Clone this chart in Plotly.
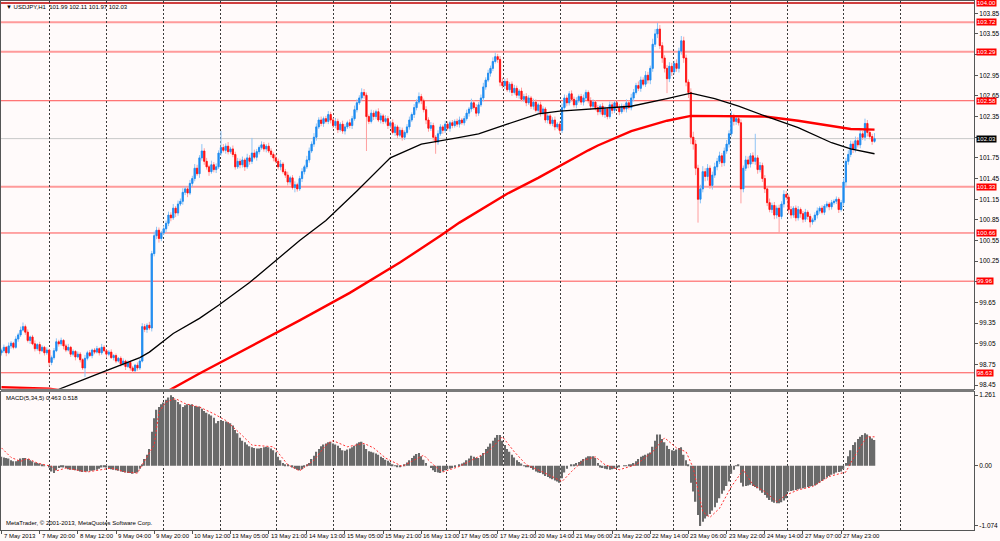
import plotly.graph_objects as go

# USDJPY H1, 7 May - 28 May 2013 (MetaTrader screenshot)
first_open = 98.92
closes = [
    98.95, 99.00, 98.92, 99.02, 99.06, 99.00, 99.12, 99.18, 99.25, 99.30,
    99.22, 99.10, 99.15, 99.05, 98.98, 99.04, 98.95, 99.00, 98.92, 98.96,
    98.78, 98.85, 98.95, 99.08, 99.05, 99.10, 99.02, 98.96, 99.00, 98.90,
    98.94, 98.86, 98.90, 98.82, 98.70, 98.84, 98.92, 98.88, 98.96, 98.93,
    98.98, 98.92, 99.00, 98.95, 98.90, 98.93, 98.85, 98.88, 98.80, 98.84,
    98.76, 98.80, 98.72, 98.78, 98.70, 98.66, 98.74, 98.70, 98.80, 99.30,
    99.26, 99.32, 99.28, 100.36, 100.62, 100.70, 100.58, 100.66, 100.72, 100.80,
    100.92, 100.88, 101.02, 100.95, 101.08, 101.12, 101.25, 101.30, 101.24, 101.38,
    101.45, 101.60, 101.52, 101.75, 101.85, 101.70, 101.62, 101.55, 101.65, 101.58,
    101.62, 101.82, 101.90, 101.86, 101.92, 101.84, 101.88, 101.80, 101.62, 101.70,
    101.65, 101.72, 101.62, 101.75, 101.70, 101.82, 101.76, 101.84, 101.90, 101.94,
    101.88, 101.92, 101.85, 101.80, 101.75, 101.70, 101.62, 101.66, 101.55, 101.50,
    101.40, 101.46, 101.32, 101.36, 101.30, 101.45, 101.55, 101.62, 101.72, 101.85,
    101.95, 102.05, 102.20, 102.30, 102.25, 102.32, 102.28, 102.38, 102.30, 102.22,
    102.28, 102.16, 102.24, 102.14, 102.20, 102.26, 102.22, 102.32, 102.45, 102.55,
    102.62, 102.70, 102.66, 102.35, 102.28, 102.40, 102.35, 102.42, 102.30, 102.36,
    102.28, 102.32, 102.22, 102.26, 102.12, 102.20, 102.08, 102.15, 102.05, 102.12,
    102.20, 102.30, 102.38, 102.48, 102.56, 102.64, 102.58, 102.45, 102.30, 102.18,
    102.22, 102.05, 101.98, 102.10, 102.20, 102.15, 102.24, 102.18, 102.26, 102.22,
    102.28, 102.24, 102.30, 102.26, 102.32, 102.40, 102.46, 102.55, 102.48, 102.40,
    102.52, 102.62, 102.78, 102.88, 102.98, 103.05, 103.15, 103.22, 103.18, 102.85,
    102.80, 102.86, 102.74, 102.82, 102.70, 102.76, 102.66, 102.72, 102.60, 102.64,
    102.55, 102.62, 102.50, 102.56, 102.44, 102.52, 102.40, 102.46, 102.30, 102.36,
    102.25, 102.30, 102.20, 102.24, 102.15, 102.48, 102.62, 102.55, 102.68, 102.60,
    102.52, 102.58, 102.64, 102.56, 102.62, 102.70, 102.58, 102.50, 102.56, 102.48,
    102.42, 102.50, 102.38, 102.46, 102.35, 102.52, 102.44, 102.55, 102.48, 102.42,
    102.50, 102.46, 102.55, 102.48, 102.62, 102.70, 102.80, 102.76, 102.88, 102.82,
    102.95, 102.88, 103.05, 103.40, 103.55, 103.62, 103.38, 103.20, 103.05, 102.90,
    103.08, 103.00, 103.12, 103.05, 103.30, 103.45, 103.20, 102.85, 102.70, 102.05,
    101.95, 101.60, 101.15, 101.30, 101.55, 101.48, 101.60, 101.35, 101.50, 101.62,
    101.70, 101.78, 101.68, 101.85, 101.95, 102.10, 102.35, 102.28, 102.32, 102.26,
    101.30, 101.60, 101.72, 101.66, 101.78, 101.70, 101.75, 101.58, 101.64, 101.45,
    101.30, 101.10, 101.00, 101.06, 100.92, 101.02, 100.90, 101.08, 101.22, 101.18,
    101.00, 100.92, 101.02, 100.88, 101.00, 100.94, 100.86, 100.96, 100.90, 100.82,
    100.85, 100.92, 100.98, 101.02, 100.96, 101.05, 101.08, 101.04, 101.10, 101.12,
    101.15, 101.00, 101.10, 101.40, 101.70, 101.80, 101.95, 101.88, 102.00, 101.94,
    102.10, 102.05, 102.25, 102.12, 102.06, 101.99, 102.03,
]
# wick lengths in hundredths of a yen, above and below the candle body
wick_up = [
    3, 4, 2, 5, 3, 2, 4, 3, 5, 6,  3, 4, 2, 3, 5, 2, 4, 3, 2, 4,
    2, 3, 4, 5, 3, 4, 2, 3, 5, 2,  3, 2, 4, 3, 2, 5, 3, 4, 2, 3,
    4, 2, 5, 3, 2, 3, 4, 2, 3, 2,  3, 4, 2, 3, 2, 3, 2, 4, 3, 5,
    4, 3, 5, 4, 6, 5, 4, 3, 5, 4,  5, 4, 6, 3, 5, 4, 6, 4, 3, 5,
    4, 6, 5, 4, 10, 4, 5, 3, 6, 4,  5, 4, 24, 5, 4, 6, 3, 5, 4, 5,
    4, 5, 3, 6, 4, 22, 5, 4, 3, 5,  4, 3, 5, 4, 3, 5, 4, 6, 3, 4,
    5, 3, 4, 5, 3, 4, 5, 3, 6, 5,  4, 6, 5, 4, 5, 3, 4, 5, 4, 3,
    5, 4, 3, 5, 4, 3, 5, 4, 6, 5,  4, 6, 5, 4, 3, 5, 4, 3, 5, 4,
    3, 5, 4, 3, 5, 4, 3, 5, 4, 3,  4, 5, 3, 5, 4, 6, 4, 3, 5, 4,
    5, 4, 3, 5, 4, 3, 5, 4, 3, 4,  3, 4, 5, 3, 4, 5, 3, 6, 4, 5,
    4, 5, 6, 4, 5, 4, 6, 6, 4, 5,  6, 4, 5, 3, 4, 5, 4, 3, 5, 4,
    5, 4, 3, 5, 4, 3, 5, 4, 3, 4,  3, 4, 5, 3, 4, 6, 5, 4, 4, 5,
    4, 5, 3, 4, 5, 4, 3, 5, 4, 3,  4, 3, 5, 4, 3, 5, 4, 3, 4, 5,
    4, 3, 5, 4, 6, 5, 4, 6, 5, 4,  6, 5, 4, 8, 7, 9, 6, 5, 4, 5,
    6, 5, 4, 6, 5, 7, 6, 5, 4, 6,  8, 6, 5, 6, 8, 5, 6, 4, 5, 6,
    5, 6, 4, 5, 6, 5, 8, 4, 5, 4,  5, 4, 6, 5, 4, 5, 35, 4, 5, 4,
    5, 4, 6, 4, 5, 4, 5, 4, 6, 5,  4, 5, 3, 4, 5, 3, 4, 5, 3, 4,
    3, 4, 5, 3, 4, 3, 4, 3, 4, 3,  4, 3, 4, 6, 5, 6, 5, 4, 6, 5,
    5, 4, 7, 5, 4, 4, 8,
]
wick_dn = [
    4, 3, 5, 2, 4, 3, 2, 4, 3, 2,  4, 3, 5, 2, 4, 3, 5, 2, 4, 3,
    6, 4, 3, 2, 4, 3, 5, 3, 2, 4,  3, 5, 2, 4, 3, 13, 3, 2, 4, 3,
    2, 4, 3, 2, 5, 3, 2, 4, 3, 2,  4, 3, 5, 2, 4, 3, 2, 4, 3, 2,
    4, 5, 3, 5, 4, 5, 6, 4, 3, 5,  4, 5, 3, 6, 4, 3, 5, 4, 6, 3,
    5, 4, 3, 6, 4, 5, 4, 6, 3, 4,  5, 3, 4, 3, 5, 4, 3, 4, 4, 3,
    5, 4, 6, 3, 5, 4, 3, 5, 4, 3,  4, 5, 3, 4, 5, 3, 4, 5, 3, 4,
    5, 4, 3, 7, 4, 3, 5, 4, 3, 4,  3, 4, 5, 3, 4, 5, 3, 4, 5, 4,
    4, 5, 3, 4, 5, 3, 4, 5, 3, 4,  3, 4, 5, 50, 4, 3, 5, 4, 3, 5,
    4, 3, 5, 4, 3, 5, 4, 3, 5, 4,  3, 4, 3, 5, 4, 3, 5, 4, 6, 5,
    4, 5, 17, 4, 3, 5, 4, 3, 5, 4,  3, 4, 5, 3, 4, 3, 5, 4, 3, 5,
    4, 3, 5, 4, 3, 5, 4, 3, 5, 6,  4, 5, 3, 4, 5, 3, 4, 5, 3, 4,
    5, 3, 4, 5, 3, 4, 5, 3, 4, 5,  3, 4, 5, 3, 5, 4, 3, 5, 4, 3,
    4, 5, 3, 4, 5, 3, 4, 5, 3, 4,  5, 4, 3, 5, 4, 3, 5, 4, 3, 5,
    3, 4, 5, 3, 4, 5, 3, 4, 5, 3,  4, 5, 6, 5, 4, 6, 5, 7, 6, 21,
    5, 6, 4, 5, 6, 5, 7, 6, 8, 10,  8, 10, 34, 6, 5, 7, 6, 5, 6, 4,
    5, 4, 6, 5, 4, 5, 4, 6, 5, 4,  21, 5, 4, 6, 5, 4, 5, 6, 4, 5,
    6, 5, 4, 5, 6, 5, 23, 4, 5, 4,  6, 5, 4, 5, 4, 6, 5, 4, 5, 8,
    4, 3, 5, 4, 3, 4, 3, 5, 4, 3,  4, 5, 3, 5, 6, 5, 4, 6, 5, 4,
    5, 4, 5, 6, 4, 5, 2,
]

# moving averages (black thin, red thick), read at a few bars
black_ma_bar = [18, 24, 41, 58, 62, 72, 83, 91, 104, 125, 136, 149, 163, 176, 191, 200,
                212, 225, 234, 246, 250, 264, 279, 289, 299, 309, 320, 334, 348, 356, 366]
black_ma = [98.33, 98.39, 98.62, 98.85, 98.93, 99.20, 99.42, 99.61, 99.94, 100.55, 100.84,
            101.27, 101.75, 101.95, 102.04, 102.10, 102.24, 102.39, 102.43, 102.46, 102.46,
            102.50, 102.61, 102.69, 102.61, 102.50, 102.36, 102.19, 101.97, 101.88, 101.81]
red_ma_bar = [0, 10, 20, 26, 45, 66, 70, 83, 104, 125, 146, 167, 184, 192, 212, 225,
              246, 250, 264, 279, 289, 306, 320, 334, 348, 356, 366]
red_ma = [98.42, 98.41, 98.40, 98.37, 98.10, 98.30, 98.37, 98.62, 99.00, 99.39, 99.79,
          100.23, 100.62, 100.81, 101.23, 101.46, 101.86, 101.93, 102.14, 102.29, 102.36,
          102.36, 102.35, 102.29, 102.22, 102.17, 102.16]

# MACD(5,34,5) histogram per bar and its signal line
macd = [
    0.16, 0.15, 0.14, 0.13, 0.10, 0.08, 0.08, 0.10, 0.13, 0.14,
    0.14, 0.12, 0.10, 0.08, 0.06, 0.05, 0.04, 0.02, 0.01, 0.00,
    -0.03, -0.10, -0.13, -0.08, -0.04, -0.02, -0.03, -0.04, -0.06, -0.07,
    -0.07, -0.08, -0.09, -0.10, -0.11, -0.10, -0.10, -0.09, -0.09, -0.08,
    -0.07, -0.05, -0.03, -0.02, -0.03, -0.04, -0.06, -0.07, -0.08, -0.09,
    -0.10, -0.11, -0.12, -0.13, -0.13, -0.14, -0.13, -0.12, -0.05, 0.02,
    0.12, 0.20, 0.30, 0.61, 0.85, 1.00, 1.05, 1.10, 1.13, 1.18,
    1.22, 1.261, 1.23, 1.18, 1.14, 1.10, 1.05, 1.08, 1.10, 1.09,
    1.10, 1.07, 1.05, 1.06, 1.02, 0.98, 0.95, 0.92, 0.90, 0.86,
    0.76, 0.80, 0.82, 0.80, 0.79, 0.78, 0.76, 0.72, 0.64, 0.58,
    0.50, 0.45, 0.42, 0.38, 0.35, 0.33, 0.32, 0.31, 0.31, 0.32,
    0.33, 0.34, 0.33, 0.31, 0.28, 0.24, 0.16, 0.10, 0.05, 0.03,
    0.02, 0.00, -0.03, -0.05, -0.07, -0.08, -0.06, -0.02, 0.02, 0.05,
    0.12, 0.18, 0.25, 0.30, 0.35, 0.38, 0.40, 0.42, 0.43, 0.40,
    0.38, 0.36, 0.32, 0.28, 0.27, 0.29, 0.31, 0.33, 0.36, 0.40,
    0.42, 0.43, 0.38, 0.30, 0.26, 0.25, 0.24, 0.22, 0.20, 0.16,
    0.14, 0.11, 0.09, 0.06, 0.03, 0.01, -0.01, -0.01, 0.00, 0.02,
    0.06, 0.10, 0.14, 0.18, 0.21, 0.23, 0.17, 0.11, 0.05, 0.00,
    -0.04, -0.08, -0.11, -0.12, -0.13, -0.10, -0.08, -0.06, -0.05, -0.04,
    -0.02, 0.00, 0.02, 0.04, 0.06, 0.10, 0.13, 0.18, 0.16, 0.14,
    0.14, 0.18, 0.23, 0.30, 0.34, 0.40, 0.45, 0.50, 0.55, 0.55,
    0.45, 0.37, 0.30, 0.25, 0.20, 0.15, 0.10, 0.07, 0.04, 0.01,
    -0.01, -0.02, -0.04, -0.07, -0.10, -0.12, -0.13, -0.15, -0.18, -0.20,
    -0.22, -0.24, -0.26, -0.28, -0.30, -0.22, -0.12, -0.05, 0.00, 0.02,
    0.03, 0.05, 0.07, 0.09, 0.12, 0.15, 0.17, 0.17, 0.17, 0.14,
    0.05, -0.03, -0.04, -0.05, -0.06, -0.07, -0.06, -0.05, -0.04, -0.02,
    0.00, 0.01, 0.01, 0.02, 0.03, 0.05, 0.08, 0.12, 0.16, 0.18,
    0.20, 0.22, 0.24, 0.34, 0.45, 0.56, 0.56, 0.48, 0.42, 0.36,
    0.30, 0.28, 0.27, 0.29, 0.32, 0.33, 0.20, 0.10, 0.02, -0.30,
    -0.46, -0.64, -0.88, -1.074, -1.00, -0.94, -0.90, -0.86, -0.80, -0.74,
    -0.66, -0.58, -0.50, -0.44, -0.36, -0.28, -0.14, -0.07, 0.01, 0.03,
    -0.30, -0.37, -0.36, -0.35, -0.34, -0.36, -0.38, -0.40, -0.44, -0.48,
    -0.52, -0.57, -0.61, -0.64, -0.66, -0.67, -0.67, -0.65, -0.62, -0.58,
    -0.46, -0.45, -0.44, -0.43, -0.42, -0.41, -0.40, -0.39, -0.38, -0.37,
    -0.36, -0.35, -0.33, -0.30, -0.27, -0.24, -0.21, -0.18, -0.16, -0.14,
    -0.12, -0.11, -0.10, -0.06, 0.05, 0.17, 0.28, 0.37, 0.42, 0.48,
    0.52, 0.55, 0.58, 0.56, 0.52, 0.49, 0.463,
]
signal_bar = [0, 4, 8, 11, 15, 21, 23, 27, 36, 41, 46, 52, 57, 59, 64, 66, 69, 73, 77, 83,
              89, 94, 100, 105, 114, 120, 125, 131, 136, 139, 145, 152, 156, 161, 168, 172,
              177, 181, 185, 192, 197, 204, 210, 215, 220, 227, 235, 239, 244, 249, 253, 259,
              266, 273, 278, 283, 287, 290, 294, 297, 301, 306, 311, 315, 320, 325, 329, 334,
              340, 347, 354, 356, 360, 363, 366]
signal = [0.32, 0.15, 0.08, 0.13, 0.05, -0.01, -0.09, -0.04, -0.11, -0.07, -0.04, -0.11,
          -0.13, 0.02, 0.37, 0.96, 1.14, 1.20, 1.11, 1.05, 0.93, 0.81, 0.58, 0.37, 0.34,
          0.02, -0.09, 0.10, 0.37, 0.45, 0.34, 0.40, 0.32, 0.14, -0.01, 0.08, 0.19, 0.02,
          -0.11, -0.01, 0.10, 0.25, 0.52, 0.25, 0.02, -0.11, -0.28, -0.10, 0.10, 0.16, 0.02,
          -0.07, 0.02, 0.25, 0.50, 0.32, 0.25, -0.04, -0.82, -0.92, -0.76, -0.37, -0.07,
          -0.34, -0.46, -0.64, -0.52, -0.43, -0.37, -0.19, -0.11, 0.05, 0.34, 0.52, 0.518]

# horizontal levels drawn on the chart
level_top = 104.00
level_major = [103.72, 103.29, 101.33]
level_minor = [102.58, 100.66, 99.96, 98.63]

price_ticks = [98.45, 98.75, 99.05, 99.35, 99.65, 99.95, 100.25, 100.55, 100.85, 101.15,
               101.45, 101.75, 102.05, 102.35, 102.65, 102.95, 103.25, 103.55, 103.85]
# these tick labels sit under a level/price box in the screenshot
price_ticks_hidden = [99.95, 102.05, 103.25]
macd_ticks = [1.261, 0.0, -1.074]
macd_ticktext = ["1.261", "0.00", "-1.074"]

time_labels = ["7 May 2013", "7 May 20:00", "8 May 12:00", "9 May 04:00", "9 May 20:00",
               "10 May 12:00", "13 May 05:00", "13 May 21:00", "14 May 13:00", "15 May 05:00",
               "15 May 21:00", "16 May 13:00", "17 May 05:00", "17 May 21:00", "20 May 14:00",
               "21 May 06:00", "21 May 22:00", "22 May 14:00", "23 May 06:00", "23 May 22:00",
               "24 May 14:00", "27 May 07:00", "27 May 23:00"]

# ---- build candles ----
bars = list(range(len(closes)))
opens = [first_open] + closes[:-1]
body_hi = [max(o, c) for o, c in zip(opens, closes)]
body_lo = [min(o, c) for o, c in zip(opens, closes)]
highs = [round(b + u / 100, 2) for b, u in zip(body_hi, wick_up)]
lows = [round(b - d / 100, 2) for b, d in zip(body_lo, wick_dn)]
label_bars = [16 * k for k in range(len(time_labels))]
grid_bars = [20.3 + 23.77 * k for k in range(16)]

FONT = "Liberation Sans"
BG = "#fffafa"
XR = [-0.21, 407.7]

fig = go.Figure()

# pale wicks, then saturated bodies on top
fig.add_trace(go.Candlestick(
    x=bars, open=opens, high=highs, low=lows, close=closes,
    increasing=dict(line=dict(color="#8fc4f5", width=1), fillcolor="#8fc4f5"),
    decreasing=dict(line=dict(color="#ff9e9e", width=1), fillcolor="#ff9e9e"),
    whiskerwidth=0, hoverinfo="skip", showlegend=False, xaxis="x", yaxis="y"))
fig.add_trace(go.Candlestick(
    x=bars, open=opens, high=body_hi, low=body_lo, close=closes,
    increasing=dict(line=dict(color="#1e8cf0", width=0.8), fillcolor="#1e8cf0"),
    decreasing=dict(line=dict(color="#ff1010", width=0.8), fillcolor="#ff1010"),
    whiskerwidth=0, hoverinfo="skip", showlegend=False, xaxis="x", yaxis="y"))

fig.add_trace(go.Scatter(x=red_ma_bar, y=red_ma, mode="lines",
                         line=dict(color="#ff0000", width=2.4), showlegend=False,
                         xaxis="x", yaxis="y"))
fig.add_trace(go.Scatter(x=black_ma_bar, y=black_ma, mode="lines",
                         line=dict(color="#000000", width=1.3), showlegend=False,
                         xaxis="x", yaxis="y"))

# MACD panel
fig.add_trace(go.Bar(x=bars, y=macd, marker=dict(color="#6a6a6a", line=dict(width=0)),
                     showlegend=False, xaxis="x2", yaxis="y2"))
fig.add_trace(go.Scatter(x=signal_bar, y=signal, mode="lines",
                         line=dict(color="#ff3030", width=1, dash="2px,2px"),
                         showlegend=False, xaxis="x2", yaxis="y2"))

# levels
shapes = []
for v in level_major:
    shapes.append(dict(type="line", xref="paper", x0=0, x1=1, yref="y", y0=v, y1=v,
                       line=dict(color="#ff9a9a", width=2), layer="below"))
for v in level_minor:
    shapes.append(dict(type="line", xref="paper", x0=0, x1=1, yref="y", y0=v, y1=v,
                       line=dict(color="#ff5050", width=1), layer="below"))
shapes.append(dict(type="line", xref="paper", x0=0, x1=1, yref="y", y0=level_top, y1=level_top,
                   line=dict(color="#c00000", width=1.5), layer="below"))
shapes.append(dict(type="line", xref="paper", x0=0, x1=1, yref="y", y0=closes[-1], y1=closes[-1],
                   line=dict(color="#c8c8c8", width=1), layer="below"))
# panel separator
shapes.append(dict(type="line", xref="paper", x0=0, x1=1, yref="paper", y0=0.2637, y1=0.2637,
                   line=dict(color="#7a7a7a", width=3)))

ann = []
for v in level_major + level_minor + [level_top]:
    ann.append(dict(x=1, xref="paper", y=v, yref="y", xanchor="left", yanchor="middle",
                    xshift=2, text=f"{v:.2f}", showarrow=False, bgcolor="#ff0000",
                    borderpad=0, font=dict(family=FONT, size=6, color="white")))
ann.append(dict(x=1, xref="paper", y=closes[-1], yref="y", xanchor="left", yanchor="middle",
                xshift=2, text=f"{closes[-1]:.2f}", showarrow=False, bgcolor="#000000",
                borderpad=0, font=dict(family=FONT, size=6, color="white")))
for b, t in zip(label_bars, time_labels):
    ann.append(dict(x=b, xref="x2", y=0, yref="paper", xanchor="left", yanchor="top",
                    yshift=-1, text=t, showarrow=False,
                    font=dict(family=FONT, size=6, color="#000000")))
ann.append(dict(x=0, xref="paper", y=1, yref="paper", xanchor="left", yanchor="top",
                xshift=3, yshift=-1, showarrow=False,
                text="\u25bc USDJPY,H1  %.2f %.2f %.2f %.2f" % (opens[-1], highs[-1], lows[-1], closes[-1]),
                font=dict(family=FONT, size=6, color="#000000")))
ann.append(dict(x=0, xref="paper", y=0.2604, yref="paper", xanchor="left", yanchor="top",
                xshift=3, yshift=-1, showarrow=False,
                text="MACD(5,34,5) %.3f %.3f" % (macd[-1], signal[-1]),
                font=dict(family=FONT, size=6, color="#000000")))
ann.append(dict(x=0, xref="paper", y=0, yref="paper", xanchor="left", yanchor="bottom",
                xshift=3, yshift=2, showarrow=False,
                text="MetaTrader, \u00a9 2001-2013, MetaQuotes Software Corp.",
                font=dict(family=FONT, size=6, color="#000000")))

grid = dict(showgrid=True, gridcolor="#3a3a3a", gridwidth=1, griddash="2px,2px",
            tickmode="array", tickvals=grid_bars, showticklabels=False, ticks="",
            zeroline=False, showline=True, mirror=True, linecolor="#555555", linewidth=1,
            range=XR)

fig.update_layout(
    width=1000, height=541,
    margin=dict(l=1, r=24, t=0, b=11),
    paper_bgcolor=BG, plot_bgcolor=BG,
    font=dict(family=FONT, size=6, color="#000000"),
    showlegend=False, bargap=0.4,
    xaxis=dict(domain=[0, 1], anchor="y", rangeslider=dict(visible=False), **grid),
    xaxis2=dict(domain=[0, 1], anchor="y2",
                minor=dict(tickmode="array", tickvals=label_bars, ticks="outside",
                           ticklen=3, tickcolor="#555555", showgrid=False),
                **grid),
    yaxis=dict(domain=[0.267, 1], range=[98.398, 104.028], side="right",
               tickmode="array", tickvals=price_ticks,
               ticktext=["" if v in price_ticks_hidden else f"{v:.2f}" for v in price_ticks],
               ticks="outside", ticklen=3, tickcolor="#555555", showgrid=False,
               zeroline=False, showline=True, mirror=True, linecolor="#555555",
               tickfont=dict(family=FONT, size=6.5)),
    yaxis2=dict(domain=[0, 0.2604], range=[-1.146, 1.314], side="right",
                tickmode="array", tickvals=macd_ticks, ticktext=macd_ticktext,
                ticks="outside", ticklen=3, tickcolor="#555555", showgrid=False,
                zeroline=False, showline=True, mirror=True, linecolor="#555555",
                tickfont=dict(family=FONT, size=6.5)),
    shapes=shapes, annotations=ann,
)

# drop the browser's default 8px body margin so the figure sits at the window corner
fig.write_html("out.html", config={"displayModeBar": False},
               post_script="document.body.style.margin='0';document.body.style.background='%s';" % BG)
